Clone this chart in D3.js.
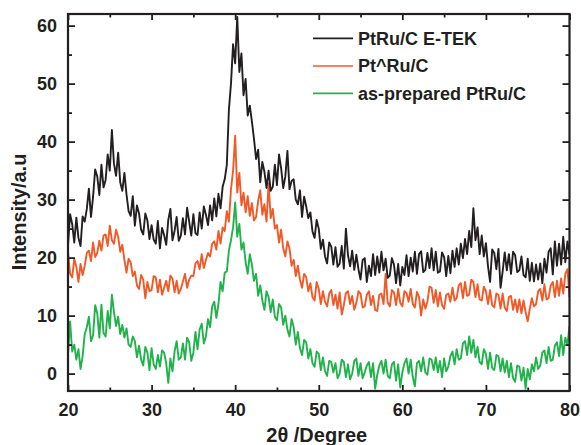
<!DOCTYPE html>
<html><head><meta charset="utf-8">
<script src="https://cdn.jsdelivr.net/npm/d3@7"></script>
<style>
body{margin:0;background:#fff;}
text{font-family:"Liberation Sans",Arial,sans-serif;font-weight:bold;fill:#231f20;}
</style>
</head><body>
<svg id="c" width="581" height="445"></svg>
<script>
// ---- data (2θ sampled from 20° every 0.25°) ----
const xStart = 20, xStep = 0.25;
const seriesNames = ["PtRu/C E-TEK", "Pt^Ru/C", "as-prepared PtRu/C"];
const seriesColors = ["#231f20", "#f05a28", "#22b24c"];

const etek = [
22.1,27.5,25.8,22.6, 26.9,23.4,22.0,27.1, 26.2,28.4,31.9,27.0, 30.5,35.2,34.0,30.8,
36.0,32.1,33.4,37.8, 35.0,42.0,36.2,34.1, 38.1,33.0,31.5,34.6, 30.9,28.0,27.2,30.6,
25.5,29.0,27.6,24.8, 24.0,27.6,26.4,23.2, 25.6,23.1,22.4,26.3, 21.6,25.1,23.9,22.2,
26.5,28.4,23.0,24.6, 27.0,22.9,23.8,26.8, 24.0,28.6,26.2,23.8, 27.5,24.2,23.9,27.8,
25.0,28.8,27.4,25.6, 29.0,26.4,30.2,27.1, 31.0,28.5,32.2,33.5, 36.0,45.5,50.0,56.8,
53.5,61.5,52.0,55.2, 48.0,50.8,44.5,46.2, 43.5,40.5,37.0,38.6, 33.0,36.5,34.8,32.0,
35.0,31.5,32.2,36.0, 32.5,37.8,35.4,32.0, 34.0,38.4,31.8,33.2, 33.5,30.0,29.2,31.6,
27.0,30.5,28.8,26.8, 27.8,24.5,23.4,26.5, 25.0,21.5,23.1,20.2, 19.0,22.6,21.9,18.8,
21.8,18.4,19.0,22.0, 18.1,25.0,20.4,18.5, 21.2,17.9,20.5,18.0, 16.2,19.6,19.9,15.8,
18.6,16.8,20.6,17.0, 20.2,17.4,21.0,17.8, 19.8,16.5,16.9,19.9, 18.8,15.6,18.9,15.2,
18.4,17.0,20.4,16.8, 20.0,17.6,21.0,17.2, 20.6,21.1,17.5,17.9, 20.8,18.2,21.6,17.8,
21.0,17.4,17.6,20.9, 20.1,16.8,20.3,17.3, 21.2,18.4,21.6,18.8, 22.4,19.9,23.2,20.6,
24.6,21.8,28.5,23.0, 25.2,20.6,23.8,20.2, 22.5,18.5,15.8,21.4, 20.8,18.0,21.5,14.8,
17.6,20.9,17.8,20.6, 17.2,21.0,20.4,17.5, 17.8,20.2,17.0,16.6, 19.8,16.0,19.1,15.9,
18.8,16.2,19.0,15.6, 19.8,17.4,21.0,21.6, 17.1,22.8,18.6,22.4, 18.8,23.6,19.2,22.8,
20.5];

const ptru = [
21.0,17.2,16.6,19.8, 18.4,15.8,18.9,17.0, 18.6,20.8,21.2,19.4, 22.6,20.1,20.8,22.9,
21.2,23.8,24.0,22.0, 25.5,23.0,22.4,24.8, 23.6,21.0,22.2,19.6, 17.4,19.8,19.2,16.8,
17.6,15.2,14.6,17.0, 16.2,13.0,15.8,14.2, 14.4,16.8,16.6,14.0, 16.2,13.6,14.8,16.0,
14.2,16.9,16.4,14.0, 16.0,13.8,14.6,15.9, 17.2,14.8,16.2,16.9, 16.8,19.0,19.4,18.0,
20.6,18.2,19.6,20.8, 20.2,22.4,22.8,21.4, 24.6,22.4,25.2,24.6, 28.0,26.2,31.8,35.0,
41.0,31.2,34.6,29.0, 31.2,27.8,30.6,27.2, 29.4,26.4,27.0,29.8, 31.6,27.4,29.2,26.2,
32.8,26.8,28.4,25.0, 25.6,22.6,24.8,21.6, 20.2,22.8,21.6,18.6, 19.6,16.8,18.6,16.2,
14.8,17.2,16.6,14.2, 15.6,13.2,12.6,15.8, 14.6,12.0,14.2,12.4, 11.6,13.8,14.4,11.8,
13.6,11.2,14.0,10.2, 11.8,13.9,14.2,12.0, 13.4,11.0,12.2,14.2, 13.8,11.4,11.6,13.6,
14.2,11.8,13.4,11.0, 10.8,13.6,13.8,12.0, 17.2,12.2,11.6,14.4, 14.0,11.8,14.6,12.2,
11.6,14.2,13.9,12.4, 14.6,12.0,11.4,14.1, 13.2,10.0,12.8,11.2, 12.4,15.0,14.8,12.2,
14.4,11.6,14.0,11.8, 11.2,13.6,13.8,12.4, 14.8,12.6,13.0,15.2, 15.6,13.0,15.8,13.4,
13.6,16.2,15.8,13.2, 15.4,12.8,12.6,15.0, 14.2,12.0,14.4,11.8, 11.4,13.8,13.6,11.2,
13.8,11.4,10.8,13.2, 13.4,11.0,12.8,10.6, 12.8,10.4,12.6,10.6, 9.0,11.2,13.0,11.6,
12.0,14.2,14.6,12.6, 15.4,12.8,13.0,15.2, 15.8,13.2,16.0,13.4, 16.4,13.8,17.2,18.0,
13.2];

const asprep = [
3.2,9.0,3.8,5.0, 2.4,4.2,0.8,3.0, 6.8,8.0,9.8,5.6, 6.6,11.8,10.4,6.2,
11.9,7.0,6.4,10.8, 7.8,13.6,10.6,8.2, 9.8,6.8,8.4,6.2, 7.8,5.0,4.6,6.4,
5.6,2.8,4.8,2.4, 1.4,4.6,3.6,0.6, 4.4,1.6,0.8,3.2, 1.2,4.0,3.6,1.8,
-1.6,2.6,0.4,3.8, 5.6,2.4,2.8,5.2, 2.4,6.2,5.4,2.2, 3.6,7.2,4.2,7.6,
8.6,5.2,6.4,9.4, 8.0,11.6,12.4,9.6, 12.0,15.8,14.2,17.4, 17.6,21.2,23.0,25.2,
29.5,23.6,25.8,21.4, 22.6,19.2,17.2,20.6, 18.8,16.0,17.2,13.4, 15.2,12.6,11.0,14.2,
13.2,10.6,12.8,9.8, 9.2,12.0,11.4,8.4, 10.0,7.6,6.4,9.4, 8.0,5.0,7.2,4.4,
3.2,5.8,5.4,2.6, 4.2,1.8,1.2,3.8, 3.4,0.6,2.8,0.4, -0.4,2.2,2.0,0.2,
1.8,-0.8,0.0,2.4, 2.0,-0.6,1.6,-1.0, 0.0,2.2,2.6,-0.4, 1.8,-0.8,0.2,1.4,
2.0,-0.6,1.8,-2.6, -0.2,1.4,2.2,0.0, 2.4,-0.4,-0.8,1.6, 2.0,-1.2,1.6,-2.4,
0.2,1.8,2.6,0.0, 2.4,-0.6,-2.2,1.8, 2.2,0.4,2.8,0.2, -0.2,2.6,2.4,0.6,
2.8,0.2,2.2,-0.6, 2.6,0.4,1.2,3.0, 3.8,1.6,4.2,2.4, 2.6,5.2,5.6,3.2,
6.4,3.6,5.8,2.8, 4.6,2.0,1.6,4.2, 3.4,0.8,3.6,1.0, 0.6,3.2,3.0,0.4,
2.6,0.2,2.2,-0.6, 1.8,-0.8,-1.4,1.4, 1.2,-1.2,1.0,-2.6, 0.8,-1.0,1.6,0.4,
2.8,0.8,1.4,3.6, 4.0,1.8,4.6,2.2, 2.4,4.8,5.4,3.0, 6.6,3.2,6.2,5.0,
8.2];

const xMajorTicks = [20, 30, 40, 50, 60, 70, 80];
const xMinorTicks = [25, 35, 45, 55, 65, 75];
const yMajorTicks = [0, 10, 20, 30, 40, 50, 60];
const yMinorTicks = [5, 15, 25, 35, 45, 55];
const xTitle = "2θ /Degree";
const yTitle = "Intensity/a.u";

// ---- layout ----
const L = 68, R = 569.5, T = 14, B = 391;
const svg = d3.select("#c");
const x = d3.scaleLinear().domain([20, 80]).range([L, R]);
const y = d3.scaleLinear().domain([-3, 62]).range([B, T]);
const ink = "#231f20";

const allSeries = [etek, ptru, asprep];
const clipId = "plotclip";
svg.append("defs").append("clipPath").attr("id", clipId)
  .append("rect").attr("x", L).attr("y", T).attr("width", R - L).attr("height", B - T);

const line = d3.line()
  .x((d, i) => x(xStart + i * xStep))
  .y(d => y(d));

const g = svg.append("g").attr("clip-path", `url(#${clipId})`);
[2, 1, 0].forEach(k => {
  g.append("path").datum(allSeries[k])
    .attr("d", line)
    .attr("fill", "none")
    .attr("stroke", seriesColors[k])
    .attr("stroke-width", 1.9)
    .attr("stroke-linejoin", "round");
});

// ---- axes ----
function styleAxis(sel) {
  sel.select(".domain").remove();
  sel.selectAll("line").attr("stroke", ink).attr("stroke-width", 1.8);
  sel.selectAll("text").attr("font-size", 18).attr("font-weight", "bold")
     .attr("fill", ink).attr("font-family", '"Liberation Sans", Arial, sans-serif');
}
svg.append("g").attr("transform", `translate(0,${B})`)
  .call(d3.axisBottom(x).tickValues(xMajorTicks).tickSizeInner(-6).tickSizeOuter(0).tickPadding(12))
  .call(styleAxis);
svg.append("g").attr("transform", `translate(0,${B})`)
  .call(d3.axisBottom(x).tickValues(xMinorTicks).tickSizeInner(-3.5).tickSizeOuter(0).tickFormat(""))
  .call(styleAxis);
svg.append("g").attr("transform", `translate(0,${T})`)
  .call(d3.axisTop(x).tickValues(xMajorTicks).tickSizeInner(-6).tickSizeOuter(0).tickFormat(""))
  .call(styleAxis);
svg.append("g").attr("transform", `translate(0,${T})`)
  .call(d3.axisTop(x).tickValues(xMinorTicks).tickSizeInner(-3.5).tickSizeOuter(0).tickFormat(""))
  .call(styleAxis);
svg.append("g").attr("transform", `translate(${L},0)`)
  .call(d3.axisLeft(y).tickValues(yMajorTicks).tickSizeInner(-7).tickSizeOuter(0).tickPadding(11))
  .call(styleAxis);
svg.append("g").attr("transform", `translate(${L},0)`)
  .call(d3.axisLeft(y).tickValues(yMinorTicks).tickSizeInner(-4).tickSizeOuter(0).tickFormat(""))
  .call(styleAxis);
svg.append("g").attr("transform", `translate(${R},0)`)
  .call(d3.axisRight(y).tickValues(yMajorTicks).tickSizeInner(-7).tickSizeOuter(0).tickFormat(""))
  .call(styleAxis);
svg.append("g").attr("transform", `translate(${R},0)`)
  .call(d3.axisRight(y).tickValues(yMinorTicks).tickSizeInner(-4).tickSizeOuter(0).tickFormat(""))
  .call(styleAxis);

// frame
svg.append("rect").attr("x", L).attr("y", T).attr("width", R - L).attr("height", B - T)
  .attr("fill", "none").attr("stroke", ink).attr("stroke-width", 2.2);

// axis titles
svg.append("text").attr("x", (L + R) / 2 - 2).attr("y", 441.5)
  .attr("text-anchor", "middle").attr("font-size", 20).text(xTitle);
svg.append("text").attr("transform", `translate(26,212) rotate(-90)`)
  .attr("text-anchor", "middle").attr("font-size", 20).text(yTitle);

// legend
const legY = [38.3, 66, 93.3];
seriesNames.forEach((name, k) => {
  svg.append("line").attr("x1", 313).attr("x2", 353).attr("y1", legY[k]).attr("y2", legY[k])
    .attr("stroke", seriesColors[k]).attr("stroke-width", 1.7);
  svg.append("text").attr("x", 358).attr("y", legY[k] + 6.3)
    .attr("font-size", 18).text(name);
});
</script>
</body></html>
